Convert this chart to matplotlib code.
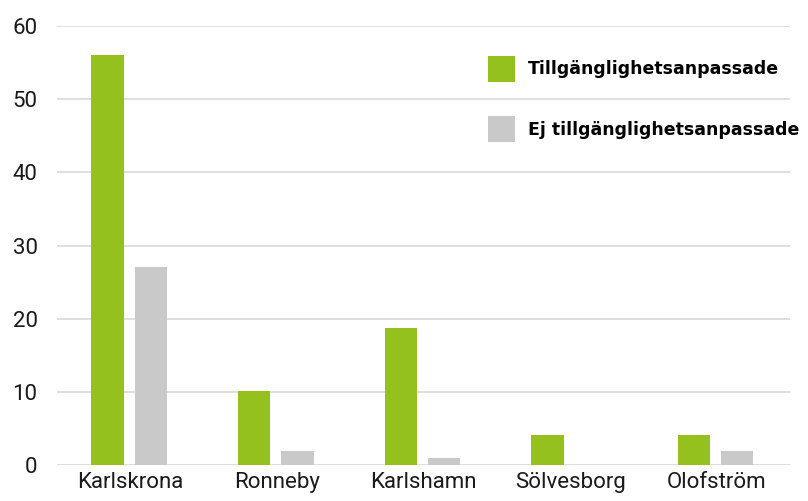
import matplotlib.pyplot as plt
import numpy as np

plt.rcParams['font.family'] = ['Roboto', 'DejaVu Sans']

kommuner = ["Karlskrona", "Ronneby", "Karlshamn", "Sölvesborg", "Olofström"]
anpassade = [56, 10.1, 18.7, 4.1, 4.1]
ej_anpassade = [27, 1.9, 1.0, 0, 1.9]
yticks = [0, 10, 20, 30, 40, 50, 60]

green = "#95c11f"
grey = "#c9c9c9"

fig = plt.figure(figsize=(8.08, 5.01), dpi=100)
ax = fig.add_axes([57 / 808, 36 / 501, 733 / 808, 439 / 501])

x = np.arange(len(kommuner))
w = 0.22
ax.bar(x - 0.155, anpassade, w, color=green, label="Tillgänglighetsanpassade", zorder=3)
ax.bar(x + 0.14, ej_anpassade, w, color=grey, label="Ej tillgänglighetsanpassade", zorder=3)

ax.set_xlim(-0.5, len(kommuner) - 0.5)
ax.set_ylim(0, 60)
ax.set_yticks(yticks)
ax.set_xticks(x)
ax.set_xticklabels(kommuner)
ax.tick_params(axis='both', length=0, labelsize=16, colors="#1a1a1a")
ax.tick_params(axis='y', pad=14)
ax.tick_params(axis='x', pad=5)
ax.grid(axis='y', color="#d9d9d9", linewidth=1.2, zorder=0)
for s in ax.spines.values():
    s.set_visible(False)

leg = ax.legend(loc='upper left', bbox_to_anchor=(481 / 808, 1 - 49 / 501),
                bbox_transform=fig.transFigure, frameon=False,
                prop={'family': 'DejaVu Sans', 'weight': 'bold', 'size': 12.5},
                handlelength=1.55, handleheight=1.9, handletextpad=0.75,
                labelspacing=2.0, borderaxespad=0)

fig.savefig("out.png", dpi=100)
